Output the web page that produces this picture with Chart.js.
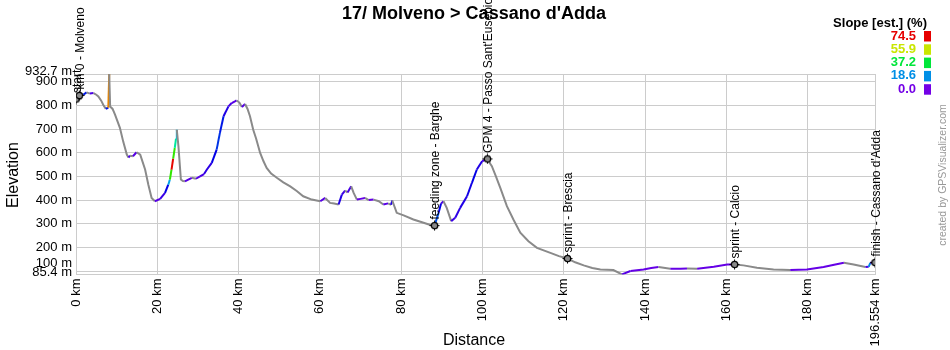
<!DOCTYPE html>
<html><head><meta charset="utf-8">
<script src="https://cdn.jsdelivr.net/npm/chart.js@4.4.1/dist/chart.umd.min.js"></script>
<style>html,body{margin:0;padding:0;background:#fff}#wrap{width:950px;height:350px;position:relative}</style>
</head><body><div id="wrap"><canvas id="c" width="950" height="350"></canvas></div>
<script>
const chartTitle = "17/ Molveno > Cassano d'Adda";
const xTitle = "Distance";
const yTitle = "Elevation";
const legendTitle = "Slope [est.] (%)";
const credit = "created by GPSVisualizer.com";

// profile (km, m) and estimated slope (%) of the segment ending at each point (negative = descending)
const distanceKm = [0,0.6,1.0,1.8,2.6,3.4,4.3,5.0,5.5,6.2,6.7,7.3,7.95,8.17,8.4,9.0,9.6,10.8,11.6,12.5,12.9,13.3,14.0,14.9,15.8,17.0,17.8,18.6,19.4,20.7,21.9,22.7,23.1,23.5,23.9,24.3,24.6,24.8,25.2,25.8,26.3,26.8,27.5,28.5,29.5,30.5,31.5,32.2,33.4,34.6,35.4,36.3,37.5,38.3,39.1,39.5,40.2,40.8,41.6,42.2,42.8,43.6,44.3,45.3,46.1,46.9,48.0,49.4,51.0,52.7,54.3,55.9,58.0,60.1,61.3,62.5,63.5,64.6,65.4,66.2,66.8,67.7,68.3,69.1,70.0,71.1,72.0,73.2,74.5,75.6,76.8,77.5,77.8,78.9,80.6,83.0,85.5,87.0,88.2,89.2,89.8,90.4,91.2,92.3,93.3,94.5,96.2,97.4,98.6,99.9,101.1,102.3,103.3,104.4,106.0,107.6,109.3,111.3,113.4,116.7,118.8,120.9,122.8,124.9,127.0,129.0,132.2,134.3,136.4,139.6,141.5,143.3,146.2,148.7,150.3,152.8,156.9,160.2,162.0,164.2,167.5,171.6,175.7,179.8,183.9,186.5,188.9,191.3,194.2,195.0,195.4,196.554];
const elevationM = [827,842,849,845,855,850,852,845,838,820,803,786,790,932.7,795,785,761,705,648,592,580,587,585,602,592,529,465,409,395,405,430,465,487,529,575,620,660,697,627,487,480,479,485,494,490,500,510,529,557,613,684,754,796,810,817,821,812,793,806,785,754,697,660,599,565,536,512,494,475,458,438,416,402,395,409,388,385,381,423,440,432,458,430,402,405,409,400,402,395,381,386,380,398,346,335,318,304,296,292,346,385,395,367,311,325,367,416,473,529,564,574,543,500,450,374,318,262,226,198,177,163,153,137,124,113,107,104,86,100,107,113,117,110,110,111,110,118,128,128,124,114,107,104,107,117,127,135,128,117,118,135,136];
const slopePct = [null,5,4,-1,10,-1,3,-1,-1,-1,-1,-1,10,65,-1,-1,-1,-1,-1,-1,-1,3,-1,2,-1,-1,-1,-1,-1,2,4,8,20,45,74,45,30,22,-1,-1,-1,-1,2,2,-1,2,3,5,5,8,12,10,6,3,2,2,-1,-1,2,-1,-1,-1,-1,-1,-1,-1,-1,-1,-1,-1,-1,-1,-1,-1,2,-1,-1,-1,6,4,-1,3,-1,-1,1,1,-1,1,-1,-1,2,-1,6,-1,-1,-1,-1,-1,-1,14,8,3,-1,-1,4,5,6,7,8,6,3,-1,-1,-1,-1,-1,-1,-1,-1,-1,-1,-1,-1,-1,-1,-1,-1,-1,2,1,1,1,-1,1,1,-1,1,1,1,-1,-1,-1,-1,1,1,1,1,-1,-1,3,18,2];

const xTicks = [0,20,40,60,80,100,120,140,160,180,196.554];
const yTicks = [85.4,100,200,300,400,500,600,700,800,900,932.7];

const waypointNames = ["start","km 0 - Molveno","feeding zone - Barghe","GPM 4 - Passo Sant'Eusebio","sprint - Brescia","sprint - Calcio","finish - Cassano d'Adda"];
const waypointKm = [0,0.8,88.2,101.2,120.9,162.0,196.554];
const waypointElev = [827,842,292,574,153,128,136];

const legendValues = [74.5,55.9,37.2,18.6,0.0];

const FONT = '"Liberation Sans", Arial, Helvetica, sans-serif';
const MAXS = 74.5;

function hsv(h,s,v){
  const f=n=>{const k=(n+h/60)%6;return Math.round(255*(v - v*s*Math.max(0,Math.min(k,4-k,1))));};
  return 'rgb('+f(5)+','+f(3)+','+f(1)+')';
}
function slopeColor(s){
  if (s==null || s<0) return '#8a8a8a';
  const t=Math.min(s,MAXS)/MAXS;
  return hsv(270-270*t,1,0.9);
}

function makeMarker(){
  const c=document.createElement('canvas');c.width=11;c.height=11;
  const g=c.getContext('2d');
  g.strokeStyle='#000';g.lineWidth=1;
  g.beginPath();g.moveTo(5.5,0.5);g.lineTo(5.5,10.5);g.moveTo(0.5,5.5);g.lineTo(10.5,5.5);g.stroke();
  g.beginPath();g.arc(5.5,5.5,3.2,0,2*Math.PI);g.fillStyle='#8a8a8a';g.fill();g.lineWidth=1.3;g.stroke();
  return c;
}

const overlay = {
  id:'overlay',
  afterDatasetsDraw(chart){
    const {ctx, scales:{x,y}} = chart;
    ctx.save();
    ctx.font = '12px '+FONT;
    ctx.fillStyle = '#000';
    ctx.textBaseline='middle'; ctx.textAlign='left';
    waypointNames.forEach((n,i)=>{
      const px=x.getPixelForValue(waypointKm[i]), py=y.getPixelForValue(waypointElev[i]);
      ctx.save(); ctx.translate(px+1.5, py-6); ctx.rotate(-Math.PI/2); ctx.fillText(n,0,0); ctx.restore();
    });
    ctx.restore();
  },
  afterDraw(chart){
    const ctx=chart.ctx;
    ctx.save();
    ctx.fillStyle='#000';
    ctx.textAlign='center'; ctx.textBaseline='middle';
    ctx.font='bold 18px '+FONT;
    ctx.fillText(chartTitle,474,14);
    ctx.font='16px '+FONT;
    ctx.fillText(xTitle,474,341);
    ctx.save(); ctx.translate(14,175); ctx.rotate(-Math.PI/2); ctx.fillText(yTitle,0,0); ctx.restore();
    // legend
    ctx.textAlign='right';
    ctx.font='bold 13px '+FONT;
    ctx.fillText(legendTitle,927,23);
    legendValues.forEach((v,i)=>{
      const cy=36+i*13.3;
      ctx.fillStyle=slopeColor(v);
      ctx.fillText(v.toFixed(1),916,cy);
      ctx.fillRect(924,cy-5,7,10.5);
    });
    // credit
    ctx.fillStyle='#999';
    ctx.font='10.5px '+FONT;
    ctx.textAlign='center';
    ctx.save(); ctx.translate(943,175); ctx.rotate(-Math.PI/2); ctx.fillText(credit,0,0); ctx.restore();
    ctx.restore();
  }
};

const gridColor='#cccccc';
const tickFont = c => {
  const v = c.tick ? c.tick.value : null;
  if (v===932.7) return {family:FONT,size:13,lineHeight:0.46};
  if (v===85.4) return {family:FONT,size:13,lineHeight:0.36};
  return {family:FONT,size:13};
};
new Chart(document.getElementById('c'),{
  type:'line',
  data:{datasets:[
    {type:'scatter',data:waypointKm.map((k,i)=>({x:k,y:waypointElev[i]})),pointStyle:makeMarker(),pointRadius:5,order:0},
    {data:distanceKm.map((k,i)=>({x:k,y:elevationM[i]})),borderColor:'#8a8a8a',borderWidth:2,pointRadius:0,tension:0,fill:false,
     segment:{borderColor:c=>slopeColor(slopePct[c.p1DataIndex])},order:1}
  ]},
  options:{
    responsive:false,animation:false,devicePixelRatio:1,events:[],
    layout:{autoPadding:false,padding:{top:74,right:75,left:0,bottom:0}},
    plugins:{legend:{display:false},tooltip:{enabled:false},title:{display:false}},
    scales:{
      x:{type:'linear',min:0,max:196.554,
        afterBuildTicks:s=>{s.ticks=xTicks.map(v=>({value:v}));},
        afterFit:s=>{s.height=75.5;},
        grid:{color:gridColor,drawTicks:false},border:{color:gridColor},
        ticks:{autoSkip:false,minRotation:90,maxRotation:90,padding:4,color:'#000',font:{family:FONT,size:13},
          callback:v=>v+' km'}},
      y:{type:'linear',min:85.4,max:932.7,
        afterBuildTicks:s=>{s.ticks=yTicks.map(v=>({value:v}));},
        afterFit:s=>{s.width=76;},
        grid:{color:gridColor,drawTicks:false},border:{color:gridColor},
        ticks:{autoSkip:false,padding:4,color:'#000',font:tickFont,
          callback:v=> (v===100||v===932.7||v===85.4)?[v+' m','']:v+' m'}}
    }
  },
  plugins:[overlay]
});
</script></body></html>
